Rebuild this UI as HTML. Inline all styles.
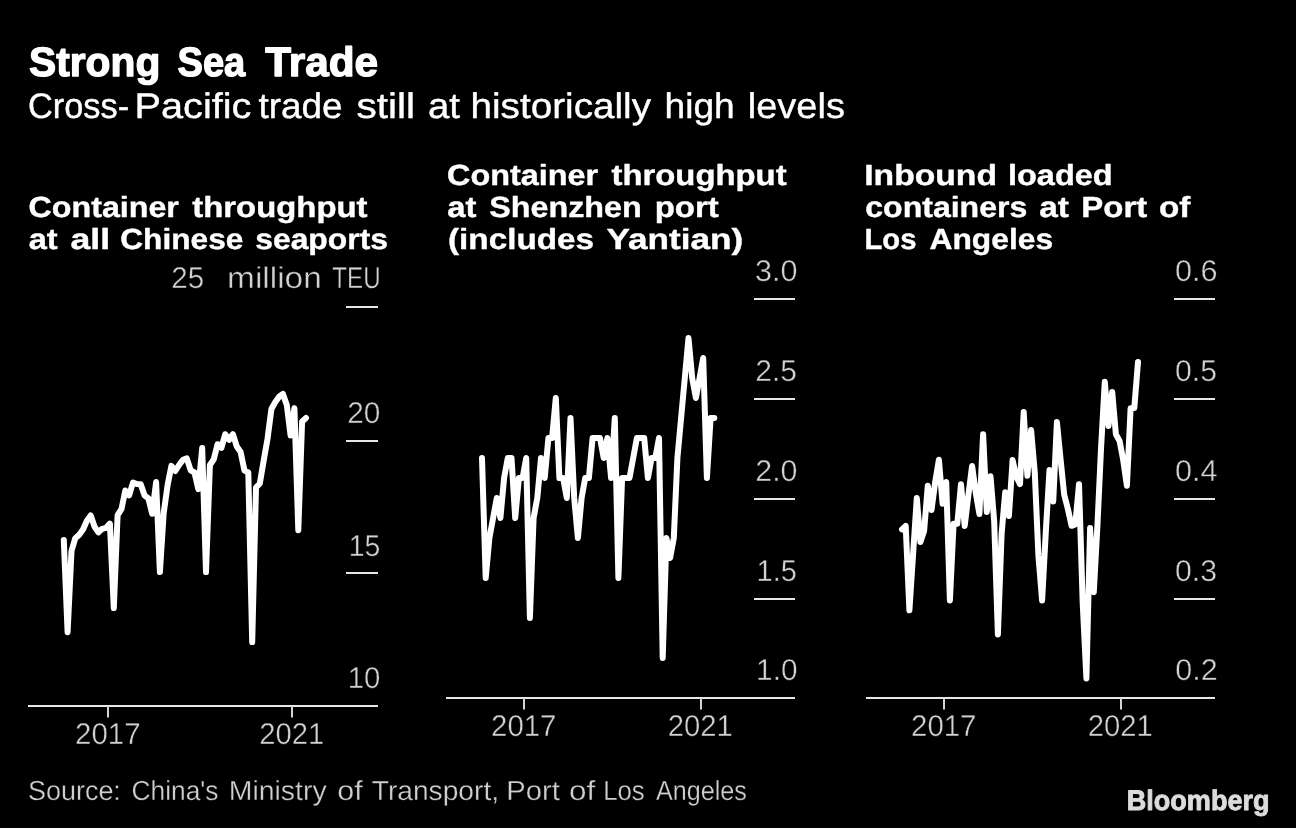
<!DOCTYPE html>
<html><head><meta charset="utf-8"><title>Strong Sea Trade</title>
<style>
html,body{margin:0;padding:0;background:#000;}
body{width:1296px;height:828px;overflow:hidden;}
svg{display:block;will-change:transform;font-family:"Liberation Sans",sans-serif;text-rendering:geometricPrecision;}
</style></head><body>
<svg width="1296" height="828" viewBox="0 0 1296 828">
<rect width="1296" height="828" fill="#000"/>
<rect x="28" y="705" width="350" height="2" fill="#e6e6e6"/>
<rect x="346" y="306" width="32" height="2" fill="#e6e6e6"/>
<rect x="346" y="440" width="32" height="2" fill="#e6e6e6"/>
<rect x="346" y="572" width="32" height="2" fill="#e6e6e6"/>
<rect x="107" y="706" width="2" height="11.5" fill="#d4d4d4"/>
<rect x="291" y="706" width="2" height="11.5" fill="#d4d4d4"/>
<rect x="446" y="697" width="349" height="2" fill="#e6e6e6"/>
<rect x="754" y="298" width="41" height="2" fill="#e6e6e6"/>
<rect x="754" y="398" width="41" height="2" fill="#e6e6e6"/>
<rect x="754" y="498" width="41" height="2" fill="#e6e6e6"/>
<rect x="754" y="598" width="41" height="2" fill="#e6e6e6"/>
<rect x="523" y="698" width="2" height="11.5" fill="#d4d4d4"/>
<rect x="700" y="698" width="2" height="11.5" fill="#d4d4d4"/>
<rect x="866" y="697" width="349" height="2" fill="#e6e6e6"/>
<rect x="1174" y="298" width="41" height="2" fill="#e6e6e6"/>
<rect x="1174" y="398" width="41" height="2" fill="#e6e6e6"/>
<rect x="1174" y="498" width="41" height="2" fill="#e6e6e6"/>
<rect x="1174" y="598" width="41" height="2" fill="#e6e6e6"/>
<rect x="943" y="698" width="2" height="11.5" fill="#d4d4d4"/>
<rect x="1120" y="698" width="2" height="11.5" fill="#d4d4d4"/>
<polyline points="63.8,540.0 67.6,632.2 71.5,551.0 75.3,538.2 79.2,534.7 83.0,529.5 86.9,520.8 90.7,515.5 94.6,526.8 98.4,532.4 102.2,528.8 106.1,527.8 109.9,523.6 113.8,608.1 117.6,515.2 121.5,509.0 125.3,490.5 129.1,495.4 133.0,482.5 136.8,484.0 140.7,484.2 144.5,495.3 148.4,498.4 152.2,513.8 156.1,482.1 159.9,572.1 163.7,513.0 167.6,485.2 171.4,465.9 175.3,471.0 179.1,465.0 183.0,459.8 186.8,458.3 190.7,470.4 194.5,472.5 198.3,489.1 202.2,448.1 206.0,572.1 209.9,465.0 213.7,459.5 217.6,444.2 221.4,447.9 225.2,434.2 229.1,439.9 232.9,434.2 236.8,446.6 240.6,452.0 244.5,470.6 248.3,472.5 252.2,642.1 256.0,487.5 259.8,483.5 263.7,460.4 267.5,439.0 271.4,409.0 275.2,402.2 279.1,396.7 282.9,394.0 286.8,405.0 290.6,435.6 294.4,408.1 298.3,530.2 302.1,421.4 306.0,418.0" fill="none" stroke="#ffffff" stroke-width="6.0" stroke-linejoin="round" stroke-linecap="round"/>
<polyline points="482.0,458.0 485.7,578.0 489.4,538.0 493.1,518.0 496.8,498.0 500.4,518.0 504.1,478.0 507.8,458.0 511.5,458.0 515.2,518.0 518.9,478.0 522.6,478.0 526.2,458.0 529.9,618.0 533.6,518.0 537.3,498.0 541.0,458.0 544.7,478.0 548.4,438.0 552.1,438.0 555.8,398.0 559.4,478.0 563.1,478.0 566.8,498.0 570.5,418.0 574.2,498.0 577.9,538.0 581.6,498.0 585.2,478.0 588.9,478.0 592.6,438.0 596.3,438.0 600.0,438.0 603.7,458.0 607.4,438.0 611.1,478.0 614.8,418.0 618.4,578.0 622.1,478.0 625.8,478.0 629.5,478.0 633.2,458.0 636.9,438.0 640.6,438.0 644.2,438.0 647.9,478.0 651.6,458.0 655.3,458.0 659.0,438.0 662.7,658.0 666.4,538.0 670.1,558.0 673.8,538.0 677.4,458.0 681.1,418.0 684.8,378.0 688.5,338.0 692.2,378.0 695.9,398.0 699.6,378.0 703.2,358.0 706.9,478.0 710.6,418.0 714.3,418.0" fill="none" stroke="#ffffff" stroke-width="6.0" stroke-linejoin="round" stroke-linecap="round"/>
<polyline points="902.0,529.4 905.7,525.9 909.4,610.3 913.1,554.0 916.8,498.0 920.4,542.0 924.1,531.0 927.8,485.7 931.5,510.0 935.2,482.0 938.9,459.8 942.6,503.8 946.2,482.0 949.9,600.4 953.6,523.7 957.3,523.7 961.0,484.2 964.7,526.0 968.4,495.0 972.1,466.0 975.8,493.0 979.4,514.0 983.1,434.2 986.8,511.9 990.5,476.2 994.2,521.6 997.9,634.4 1001.6,534.0 1005.2,492.2 1008.9,516.0 1012.6,460.1 1016.3,476.5 1020.0,484.1 1023.7,412.0 1027.4,475.8 1031.1,429.9 1034.8,473.0 1038.4,555.5 1042.1,600.5 1045.8,532.0 1049.5,470.0 1053.2,501.6 1056.9,422.1 1060.6,459.5 1064.2,494.8 1067.9,509.0 1071.6,525.8 1075.3,524.5 1079.0,484.2 1082.7,603.0 1086.4,678.4 1090.1,528.1 1093.8,592.2 1097.4,526.0 1101.1,447.0 1104.8,381.7 1108.5,425.9 1112.2,391.9 1115.9,434.3 1119.6,441.0 1123.2,460.0 1126.9,485.8 1130.6,408.3 1134.3,408.0 1138.0,362.0" fill="none" stroke="#ffffff" stroke-width="6.0" stroke-linejoin="round" stroke-linecap="round"/>
<text transform="translate(29.00 76.20) scale(0.9915 1)" font-size="41.1" font-weight="bold" fill="#ffffff" stroke="#ffffff" stroke-width="1.3" stroke-linejoin="round">Strong</text>
<text transform="translate(177.50 76.20) scale(0.9272 1)" font-size="41.1" font-weight="bold" fill="#ffffff" stroke="#ffffff" stroke-width="1.3" stroke-linejoin="round">Sea</text>
<text transform="translate(265.25 76.20) scale(1.0297 1)" font-size="41.1" font-weight="bold" fill="#ffffff" stroke="#ffffff" stroke-width="1.3" stroke-linejoin="round">Trade</text>
<text transform="translate(28.00 117.50) scale(0.9657 1)" font-size="35.6" fill="#ffffff" stroke="#ffffff" stroke-width="0.4" stroke-linejoin="round">Cross-</text>
<text transform="translate(134.50 117.50) scale(1.1160 1)" font-size="35.6" fill="#ffffff" stroke="#ffffff" stroke-width="0.4" stroke-linejoin="round">Pacific</text>
<text transform="translate(258.50 117.50) scale(1.0377 1)" font-size="35.6" fill="#ffffff" stroke="#ffffff" stroke-width="0.4" stroke-linejoin="round">trade</text>
<text transform="translate(356.50 117.50) scale(1.1392 1)" font-size="35.6" fill="#ffffff" stroke="#ffffff" stroke-width="0.4" stroke-linejoin="round">still</text>
<text transform="translate(428.00 117.50) scale(1.0790 1)" font-size="35.6" fill="#ffffff" stroke="#ffffff" stroke-width="0.4" stroke-linejoin="round">at</text>
<text transform="translate(470.50 117.50) scale(1.0869 1)" font-size="35.6" fill="#ffffff" stroke="#ffffff" stroke-width="0.4" stroke-linejoin="round">historically</text>
<text transform="translate(664.50 117.50) scale(1.0437 1)" font-size="35.6" fill="#ffffff" stroke="#ffffff" stroke-width="0.4" stroke-linejoin="round">high</text>
<text transform="translate(747.75 117.50) scale(1.0684 1)" font-size="35.6" fill="#ffffff" stroke="#ffffff" stroke-width="0.4" stroke-linejoin="round">levels</text>
<text transform="translate(28.50 217.40) scale(1.1078 1)" font-size="29.1" font-weight="bold" fill="#ffffff" stroke="#ffffff" stroke-width="0.4" stroke-linejoin="round">Container</text>
<text transform="translate(192.25 217.40) scale(1.1303 1)" font-size="29.1" font-weight="bold" fill="#ffffff" stroke="#ffffff" stroke-width="0.4" stroke-linejoin="round">throughput</text>
<text transform="translate(28.75 249.30) scale(1.1189 1)" font-size="29.1" font-weight="bold" fill="#ffffff" stroke="#ffffff" stroke-width="0.4" stroke-linejoin="round">at</text>
<text transform="translate(70.50 249.30) scale(1.2250 1)" font-size="29.1" font-weight="bold" fill="#ffffff" stroke="#ffffff" stroke-width="0.4" stroke-linejoin="round">all</text>
<text transform="translate(120.25 249.30) scale(1.0874 1)" font-size="29.1" font-weight="bold" fill="#ffffff" stroke="#ffffff" stroke-width="0.4" stroke-linejoin="round">Chinese</text>
<text transform="translate(255.25 249.30) scale(1.0941 1)" font-size="29.1" font-weight="bold" fill="#ffffff" stroke="#ffffff" stroke-width="0.4" stroke-linejoin="round">seaports</text>
<text transform="translate(447.00 185.10) scale(1.1134 1)" font-size="29.1" font-weight="bold" fill="#ffffff" stroke="#ffffff" stroke-width="0.4" stroke-linejoin="round">Container</text>
<text transform="translate(611.50 185.10) scale(1.1290 1)" font-size="29.1" font-weight="bold" fill="#ffffff" stroke="#ffffff" stroke-width="0.4" stroke-linejoin="round">throughput</text>
<text transform="translate(447.25 217.20) scale(1.1288 1)" font-size="29.1" font-weight="bold" fill="#ffffff" stroke="#ffffff" stroke-width="0.4" stroke-linejoin="round">at</text>
<text transform="translate(489.25 217.20) scale(1.1093 1)" font-size="29.1" font-weight="bold" fill="#ffffff" stroke="#ffffff" stroke-width="0.4" stroke-linejoin="round">Shenzhen</text>
<text transform="translate(654.75 217.20) scale(1.1324 1)" font-size="29.1" font-weight="bold" fill="#ffffff" stroke="#ffffff" stroke-width="0.4" stroke-linejoin="round">port</text>
<text transform="translate(448.00 249.30) scale(1.1434 1)" font-size="29.1" font-weight="bold" fill="#ffffff" stroke="#ffffff" stroke-width="0.4" stroke-linejoin="round">(includes</text>
<text transform="translate(606.50 249.30) scale(1.2081 1)" font-size="29.1" font-weight="bold" fill="#ffffff" stroke="#ffffff" stroke-width="0.4" stroke-linejoin="round">Yantian)</text>
<text transform="translate(864.25 185.10) scale(1.1573 1)" font-size="29.1" font-weight="bold" fill="#ffffff" stroke="#ffffff" stroke-width="0.4" stroke-linejoin="round">Inbound</text>
<text transform="translate(1008.00 185.10) scale(1.1163 1)" font-size="29.1" font-weight="bold" fill="#ffffff" stroke="#ffffff" stroke-width="0.4" stroke-linejoin="round">loaded</text>
<text transform="translate(865.25 217.20) scale(1.1015 1)" font-size="29.1" font-weight="bold" fill="#ffffff" stroke="#ffffff" stroke-width="0.4" stroke-linejoin="round">containers</text>
<text transform="translate(1039.25 217.20) scale(1.1486 1)" font-size="29.1" font-weight="bold" fill="#ffffff" stroke="#ffffff" stroke-width="0.4" stroke-linejoin="round">at</text>
<text transform="translate(1081.25 217.20) scale(1.1333 1)" font-size="29.1" font-weight="bold" fill="#ffffff" stroke="#ffffff" stroke-width="0.4" stroke-linejoin="round">Port</text>
<text transform="translate(1159.00 217.20) scale(1.1421 1)" font-size="29.1" font-weight="bold" fill="#ffffff" stroke="#ffffff" stroke-width="0.4" stroke-linejoin="round">of</text>
<text transform="translate(864.50 249.30) scale(1.0051 1)" font-size="29.1" font-weight="bold" fill="#ffffff" stroke="#ffffff" stroke-width="0.4" stroke-linejoin="round">Los</text>
<text transform="translate(929.50 249.30) scale(1.0917 1)" font-size="29.1" font-weight="bold" fill="#ffffff" stroke="#ffffff" stroke-width="0.4" stroke-linejoin="round">Angeles</text>
<text transform="translate(171.25 288.00) scale(0.9852 1)" font-size="30.0" fill="#d2d2d2" stroke="#000000" stroke-width="0.4" stroke-linejoin="round">25</text>
<text transform="translate(227.10 288.00) scale(1.1130 1)" font-size="30.0" fill="#d2d2d2" stroke="#000000" stroke-width="0.4" stroke-linejoin="round">million</text>
<text transform="translate(332.35 288.00) scale(0.8044 1)" font-size="30.0" fill="#d2d2d2" stroke="#000000" stroke-width="0.4" stroke-linejoin="round">TEU</text>
<text transform="translate(347.25 422.60) scale(0.9917 1)" font-size="30.0" fill="#d2d2d2" stroke="#000000" stroke-width="0.4" stroke-linejoin="round">20</text>
<text transform="translate(348.75 555.60) scale(0.9492 1)" font-size="30.0" fill="#d2d2d2" stroke="#000000" stroke-width="0.4" stroke-linejoin="round">15</text>
<text transform="translate(347.70 687.70) scale(0.9780 1)" font-size="30.0" fill="#d2d2d2" stroke="#000000" stroke-width="0.4" stroke-linejoin="round">10</text>
<text transform="translate(75.05 743.80) scale(0.9810 1)" font-size="30.0" fill="#d2d2d2" stroke="#000000" stroke-width="0.4" stroke-linejoin="round">2017</text>
<text transform="translate(259.25 743.80) scale(0.9739 1)" font-size="30.0" fill="#d2d2d2" stroke="#000000" stroke-width="0.4" stroke-linejoin="round">2021</text>
<text transform="translate(755.00 280.60) scale(1.0194 1)" font-size="30.0" fill="#d2d2d2" stroke="#000000" stroke-width="0.4" stroke-linejoin="round">3.0</text>
<text transform="translate(1175.00 280.60) scale(1.0194 1)" font-size="30.0" fill="#d2d2d2" stroke="#000000" stroke-width="0.4" stroke-linejoin="round">0.6</text>
<text transform="translate(755.25 380.60) scale(1.0000 1)" font-size="30.0" fill="#d2d2d2" stroke="#000000" stroke-width="0.4" stroke-linejoin="round">2.5</text>
<text transform="translate(1175.00 380.60) scale(1.0065 1)" font-size="30.0" fill="#d2d2d2" stroke="#000000" stroke-width="0.4" stroke-linejoin="round">0.5</text>
<text transform="translate(755.25 480.60) scale(1.0130 1)" font-size="30.0" fill="#d2d2d2" stroke="#000000" stroke-width="0.4" stroke-linejoin="round">2.0</text>
<text transform="translate(1175.00 480.60) scale(1.0193 1)" font-size="30.0" fill="#d2d2d2" stroke="#000000" stroke-width="0.4" stroke-linejoin="round">0.4</text>
<text transform="translate(756.50 580.60) scale(0.9669 1)" font-size="30.0" fill="#d2d2d2" stroke="#000000" stroke-width="0.4" stroke-linejoin="round">1.5</text>
<text transform="translate(1175.00 580.60) scale(1.0065 1)" font-size="30.0" fill="#d2d2d2" stroke="#000000" stroke-width="0.4" stroke-linejoin="round">0.3</text>
<text transform="translate(756.10 679.70) scale(0.9921 1)" font-size="30.0" fill="#d2d2d2" stroke="#000000" stroke-width="0.4" stroke-linejoin="round">1.0</text>
<text transform="translate(1175.30 679.70) scale(1.0156 1)" font-size="30.0" fill="#d2d2d2" stroke="#000000" stroke-width="0.4" stroke-linejoin="round">0.2</text>
<text transform="translate(491.05 735.70) scale(0.9802 1)" font-size="30.0" fill="#d2d2d2" stroke="#000000" stroke-width="0.4" stroke-linejoin="round">2017</text>
<text transform="translate(667.75 735.70) scale(0.9739 1)" font-size="30.0" fill="#d2d2d2" stroke="#000000" stroke-width="0.4" stroke-linejoin="round">2021</text>
<text transform="translate(911.05 735.70) scale(0.9802 1)" font-size="30.0" fill="#d2d2d2" stroke="#000000" stroke-width="0.4" stroke-linejoin="round">2017</text>
<text transform="translate(1087.75 735.70) scale(0.9739 1)" font-size="30.0" fill="#d2d2d2" stroke="#000000" stroke-width="0.4" stroke-linejoin="round">2021</text>
<text transform="translate(28.00 799.90) scale(0.9764 1)" font-size="27.6" fill="#cfcfcf" stroke="#000000" stroke-width="0.3" stroke-linejoin="round">Source:</text>
<text transform="translate(131.50 799.90) scale(0.9548 1)" font-size="27.6" fill="#cfcfcf" stroke="#000000" stroke-width="0.3" stroke-linejoin="round">China's</text>
<text transform="translate(228.75 799.90) scale(1.0298 1)" font-size="27.6" fill="#cfcfcf" stroke="#000000" stroke-width="0.3" stroke-linejoin="round">Ministry</text>
<text transform="translate(337.25 799.90) scale(1.1036 1)" font-size="27.6" fill="#cfcfcf" stroke="#000000" stroke-width="0.3" stroke-linejoin="round">of</text>
<text transform="translate(371.75 799.90) scale(1.0206 1)" font-size="27.6" fill="#cfcfcf" stroke="#000000" stroke-width="0.3" stroke-linejoin="round">Transport,</text>
<text transform="translate(506.25 799.90) scale(1.0576 1)" font-size="27.6" fill="#cfcfcf" stroke="#000000" stroke-width="0.3" stroke-linejoin="round">Port</text>
<text transform="translate(569.00 799.90) scale(1.1380 1)" font-size="27.6" fill="#cfcfcf" stroke="#000000" stroke-width="0.3" stroke-linejoin="round">of</text>
<text transform="translate(603.25 799.90) scale(0.9326 1)" font-size="27.6" fill="#cfcfcf" stroke="#000000" stroke-width="0.3" stroke-linejoin="round">Los</text>
<text transform="translate(656.00 799.90) scale(0.9107 1)" font-size="27.6" fill="#cfcfcf" stroke="#000000" stroke-width="0.3" stroke-linejoin="round">Angeles</text>
<text transform="translate(1126.75 810.40) scale(0.9531 1)" font-size="28.4" font-weight="bold" fill="#dcdcdc" stroke="#dcdcdc" stroke-width="0.9" stroke-linejoin="round">Bloomberg</text>
</svg>
</body></html>
